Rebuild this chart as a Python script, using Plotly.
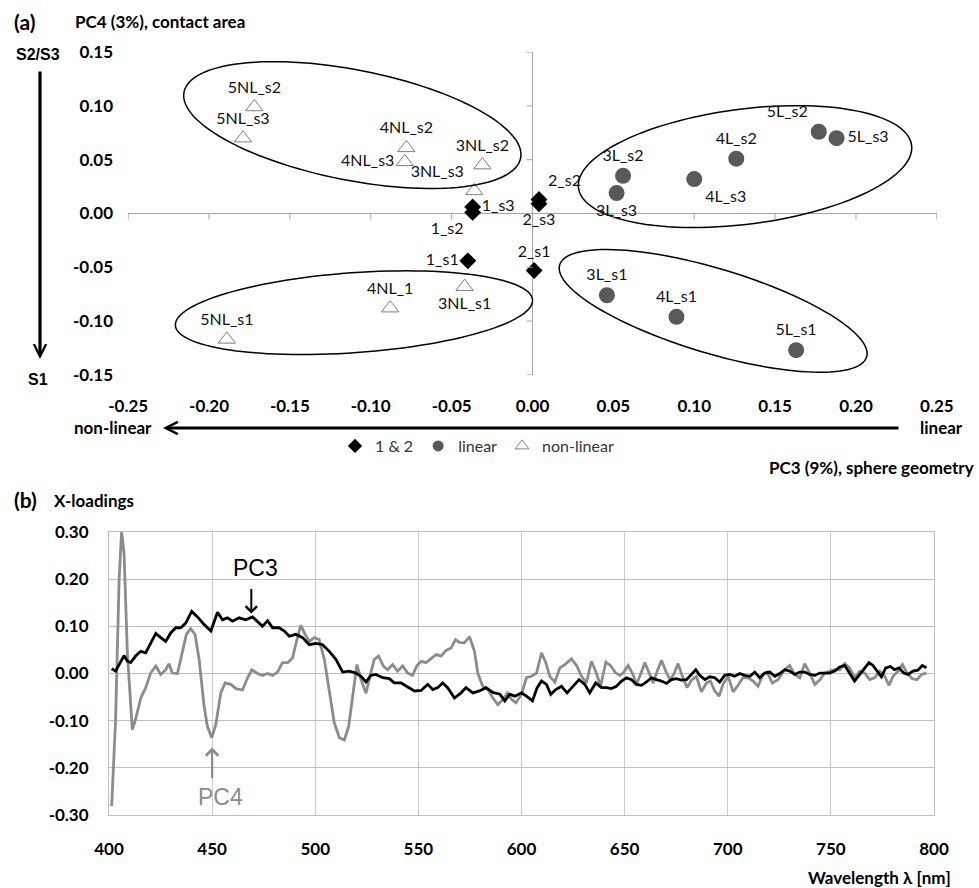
import numpy as np
import plotly.graph_objects as go

# ---------------- data: panel (a) scores ----------------
grp12_labels = ["1_s1", "1_s2", "1_s3", "2_s1", "2_s2", "2_s3"]
grp12_x = [-0.040, -0.037, -0.037, 0.001, 0.004, 0.004]
grp12_y = [-0.044, 0.001, 0.006, -0.053, 0.013, 0.009]
grp12_pos = ["middle left", "bottom left", "middle right", "top center", "top right", "bottom center"]

linear_labels = ["3L_s1", "3L_s2", "3L_s3", "4L_s1", "4L_s2", "4L_s3", "5L_s1", "5L_s2", "5L_s3"]
linear_x = [0.046, 0.056, 0.052, 0.089, 0.126, 0.100, 0.163, 0.177, 0.188]
linear_y = [-0.076, 0.035, 0.019, -0.096, 0.051, 0.032, -0.127, 0.076, 0.070]
linear_pos = ["top center", "top center", "bottom center", "top center", "top center",
              "bottom right", "top center", "top left", "middle right"]

nonlin_labels = ["3NL_s1", "3NL_s2", "3NL_s3", "4NL_1", "4NL_s2", "4NL_s3", "5NL_s1", "5NL_s2", "5NL_s3"]
nonlin_x = [-0.042, -0.031, -0.036, -0.088, -0.078, -0.079, -0.189, -0.172, -0.179]
nonlin_y = [-0.068, 0.045, 0.021, -0.088, 0.061, 0.048, -0.117, 0.099, 0.070]
nonlin_pos = ["bottom center", "top center", "top left", "top center", "top center",
              "middle left", "top center", "top center", "top center"]

a_xticks = [-0.25, -0.20, -0.15, -0.10, -0.05, 0.00, 0.05, 0.10, 0.15, 0.20, 0.25]
a_yticks = [-0.15, -0.10, -0.05, 0.00, 0.05, 0.10, 0.15]

# cluster ellipses: centre (data units), half axes (px), tilt (deg)
ell_cx = [-0.1114, 0.1314, -0.1104, 0.1117]
ell_cy = [0.0822, 0.0436, -0.0922, -0.0905]
ell_a = [171.6, 168.0, 179.1, 160.3]
ell_b = [55.2, 57.6, 40.0, 42.4]
ell_ang = [-11.1, 7.3, 4.1, -16.7]

# ---------------- data: panel (b) loadings ----------------
pc3_wl = [401.3, 403.2, 404.9, 407.3, 408.9, 410.5, 412.9, 415.4, 417.8, 420.2, 422.7, 425.1, 427.5, 429.9,
          432.4, 434.8, 437.2, 440.1, 442.9, 446.1, 449.4, 452.6, 455.0, 457.4, 459.9, 463.1, 466.3, 469.6,
          472.0, 474.4, 476.9, 479.3, 482.5, 485.0, 487.4, 490.6, 493.9, 497.1, 500.3, 503.6, 506.8, 510.0,
          513.3, 516.5, 519.7, 522.2, 524.6, 527.0, 529.4, 532.7, 535.9, 538.3, 541.6, 544.8, 548.1, 551.3,
          554.5, 557.0, 559.4, 561.8, 564.2, 567.5, 570.7, 573.1, 576.4, 579.6, 582.8, 586.1, 589.5, 591.9,
          594.3, 596.8, 600.0, 602.4, 605.3, 607.6, 609.7, 612.1, 614.2, 616.6, 619.4, 622.1, 625.0, 627.9,
          630.7, 633.1, 636.0, 638.8, 641.2, 643.6, 646.0, 648.5, 650.9, 653.3, 655.7, 658.2, 660.6, 663.0,
          665.4, 667.9, 670.3, 672.7, 675.1, 677.5, 680.0, 682.4, 684.5, 686.4, 688.9, 691.3, 693.7, 696.1,
          698.5, 701.0, 703.4, 705.8, 708.2, 710.7, 713.1, 715.5, 717.9, 720.4, 722.8, 725.2, 727.6, 730.0,
          732.5, 734.9, 737.3, 739.7, 742.2, 744.6, 747.0, 749.4, 751.8, 754.3, 756.7, 759.1, 761.5, 764.0,
          766.4, 768.5, 770.4, 772.9, 774.5, 776.6, 778.8, 780.9, 783.0, 785.3, 787.4, 789.8, 792.2, 794.3,
          796.3]
pc3_val = [0.010, 0.005, 0.019, 0.038, 0.026, 0.023, 0.037, 0.047, 0.044, 0.065, 0.085, 0.076, 0.068, 0.086,
           0.097, 0.097, 0.107, 0.132, 0.120, 0.104, 0.090, 0.130, 0.114, 0.118, 0.111, 0.118, 0.114, 0.120,
           0.111, 0.100, 0.112, 0.097, 0.097, 0.090, 0.079, 0.083, 0.076, 0.061, 0.064, 0.061, 0.047, 0.030,
           0.003, 0.005, 0.001, -0.006, -0.018, -0.004, -0.002, -0.009, -0.011, -0.020, -0.020, -0.029, -0.037, -0.036,
           -0.023, -0.034, -0.030, -0.020, -0.030, -0.052, -0.041, -0.030, -0.041, -0.037, -0.030, -0.040, -0.044, -0.058,
           -0.044, -0.048, -0.041, -0.048, -0.058, -0.030, -0.016, -0.023, -0.044, -0.034, -0.027, -0.041, -0.027, -0.013,
           -0.023, -0.041, -0.020, -0.030, -0.030, -0.032, -0.027, -0.016, -0.009, -0.013, -0.023, -0.025, -0.018, -0.009,
           -0.013, -0.016, -0.021, -0.013, -0.011, -0.014, -0.013, -0.002, 0.008, -0.004, -0.013, -0.007, -0.009, -0.018,
           -0.004, -0.002, -0.006, 0.000, -0.004, -0.006, 0.003, -0.009, 0.001, 0.003, -0.006, 0.000, 0.008, 0.005,
           -0.002, 0.003, 0.003, -0.002, -0.004, 0.001, 0.001, 0.001, 0.005, 0.014, 0.017, 0.001, -0.016, -0.002,
           0.012, 0.023, 0.017, 0.003, -0.007, 0.012, 0.015, 0.008, 0.012, 0.001, -0.002, 0.005, 0.007, 0.017,
           0.012]

pc4_wl = [401.3, 403.2, 404.9, 406.1, 407.3, 408.9, 411.3, 412.9, 415.4, 417.8, 420.2, 422.7, 425.1, 427.5,
          429.1, 430.7, 433.2, 435.6, 437.5, 439.6, 441.7, 443.7, 446.1, 447.7, 449.8, 451.8, 454.2, 456.3,
          459.1, 461.5, 464.7, 467.2, 469.3, 472.0, 474.4, 476.9, 479.3, 481.7, 484.1, 486.6, 489.0, 490.9,
          493.0, 495.1, 497.1, 499.5, 501.9, 504.4, 506.8, 509.2, 511.7, 514.1, 516.2, 518.1, 520.2, 522.2,
          524.6, 526.5, 528.6, 530.7, 533.0, 535.1, 537.5, 539.9, 542.4, 544.8, 547.2, 549.2, 551.3, 553.7,
          556.1, 558.6, 561.0, 563.4, 565.9, 568.0, 569.9, 572.3, 574.8, 577.2, 578.8, 581.2, 583.7, 586.1,
          588.5, 591.1, 593.1, 595.2, 597.3, 600.0, 602.4, 604.8, 607.3, 609.7, 611.8, 613.7, 616.2, 618.6,
          621.0, 624.2, 626.7, 629.1, 631.5, 633.9, 636.3, 638.3, 640.9, 643.1, 645.7, 647.7, 649.3, 651.7,
          654.1, 655.7, 657.7, 659.8, 662.2, 663.8, 665.8, 667.9, 670.3, 672.0, 673.8, 675.9, 678.0, 680.3,
          682.4, 684.8, 687.2, 689.7, 691.6, 693.7, 695.8, 697.7, 700.2, 702.6, 705.0, 707.4, 709.9, 712.3,
          714.7, 717.1, 719.1, 721.6, 724.4, 727.6, 730.0, 732.5, 734.9, 737.3, 739.7, 742.2, 744.6, 747.0,
          749.4, 751.8, 754.3, 756.7, 759.1, 761.5, 764.0, 766.4, 768.8, 771.2, 773.7, 776.1, 778.2, 780.1,
          782.6, 784.7, 786.9, 789.5, 791.8, 793.9, 796.3]
pc4_val = [-0.281, -0.097, 0.199, 0.301, 0.255, 0.044, -0.119, -0.097, -0.052, -0.030, 0.001, 0.016, -0.002, 0.008,
           0.021, 0.001, 0.000, 0.044, 0.083, 0.095, 0.083, 0.030, -0.069, -0.112, -0.136, -0.108, -0.041, -0.020,
           -0.023, -0.032, -0.035, -0.009, 0.008, 0.000, -0.004, 0.000, -0.004, 0.003, 0.023, 0.023, 0.033, 0.068,
           0.102, 0.083, 0.068, 0.076, 0.072, 0.030, -0.034, -0.104, -0.136, -0.141, -0.112, -0.048, 0.019, -0.013,
           -0.042, -0.006, 0.030, 0.037, 0.016, 0.008, 0.019, 0.005, 0.016, 0.001, -0.004, 0.016, 0.026, 0.023,
           0.031, 0.040, 0.037, 0.049, 0.054, 0.072, 0.066, 0.065, 0.078, 0.047, 0.001, -0.027, -0.034, -0.052,
           -0.066, -0.055, -0.041, -0.055, -0.062, -0.044, -0.009, -0.006, 0.001, 0.044, 0.023, -0.006, -0.018, 0.012,
           0.019, 0.031, 0.017, -0.006, -0.020, 0.026, 0.001, -0.027, 0.024, 0.017, 0.001, -0.004, 0.001, 0.017,
           -0.002, -0.023, -0.002, 0.023, -0.002, -0.020, 0.005, 0.028, 0.001, -0.013, -0.002, 0.021, -0.006, -0.030,
           -0.014, -0.006, -0.039, -0.020, -0.016, -0.037, -0.048, -0.023, -0.006, -0.039, -0.025, -0.009, -0.009, -0.016,
           -0.027, -0.002, 0.003, -0.020, -0.013, 0.008, 0.017, -0.002, -0.009, 0.021, 0.001, -0.023, -0.014, 0.001,
           0.005, 0.008, 0.008, 0.021, 0.012, -0.009, 0.005, 0.001, -0.013, -0.009, 0.005, -0.006, -0.025, -0.006,
           0.005, 0.019, 0.001, -0.011, -0.013, -0.002, 0.001]

b_xticks = [400, 450, 500, 550, 600, 650, 700, 750, 800]
b_yticks = [-0.30, -0.20, -0.10, 0.00, 0.10, 0.20, 0.30]

# ---------------- layout geometry (px) ----------------
W, H = 979, 888
A_L, A_R, A_T, A_B = 128, 937, 52, 375
B_L, B_R, B_T, B_B = 109, 934, 532, 815
A_XR = [-0.25, 0.25]
A_YR = [-0.15, 0.15]


def px(x):
    return x / W


def py(y):
    return 1 - y / H


def fmt(v):
    return f"{v:.2f}".replace("-0.00", "0.00")


FONT = "Lato"
TICKFONT = dict(family=FONT, size=17, color="black", weight="bold")
LBLFONT = dict(family=FONT, size=16, color="#111111")
AXGRAY = "#a6a6a6"

fig = go.Figure()

# panel (a) points
fig.add_trace(go.Scatter(x=grp12_x, y=grp12_y, text=grp12_labels, textposition=grp12_pos,
                         mode="markers+text", showlegend=False, cliponaxis=False,
                         marker=dict(symbol="diamond", size=13, color="black"),
                         textfont=LBLFONT, xaxis="x", yaxis="y"))
fig.add_trace(go.Scatter(x=linear_x, y=linear_y, text=linear_labels, textposition=linear_pos,
                         mode="markers+text", showlegend=False, cliponaxis=False,
                         marker=dict(symbol="circle", size=16, color="#595959"),
                         textfont=LBLFONT, xaxis="x", yaxis="y"))
fig.add_trace(go.Scatter(x=nonlin_x, y=nonlin_y, text=nonlin_labels, textposition=nonlin_pos,
                         mode="markers+text", showlegend=False, cliponaxis=False,
                         marker=dict(symbol="triangle-up", size=15, color="white",
                                     line=dict(color="#7f7f7f", width=1)),
                         textfont=LBLFONT, xaxis="x", yaxis="y"))
# legend entries
fig.add_trace(go.Scatter(x=[None], y=[None], mode="markers", name="1 & 2",
                         marker=dict(symbol="diamond", size=11, color="black"), xaxis="x", yaxis="y"))
fig.add_trace(go.Scatter(x=[None], y=[None], mode="markers", name="linear",
                         marker=dict(symbol="circle", size=11, color="#595959"), xaxis="x", yaxis="y"))
fig.add_trace(go.Scatter(x=[None], y=[None], mode="markers", name="non-linear",
                         marker=dict(symbol="triangle-up", size=12, color="white",
                                     line=dict(color="#7f7f7f", width=1)), xaxis="x", yaxis="y"))

# panel (b) lines
fig.add_trace(go.Scatter(x=pc4_wl, y=pc4_val, mode="lines", showlegend=False,
                         line=dict(color="#8c8c8c", width=2.8), xaxis="x2", yaxis="y2"))
fig.add_trace(go.Scatter(x=pc3_wl, y=pc3_val, mode="lines", showlegend=False,
                         line=dict(color="black", width=2.8), xaxis="x2", yaxis="y2"))

# ---------------- shapes ----------------
shapes = []
ppx = (A_R - A_L) / (A_XR[1] - A_XR[0])
ppy = (A_B - A_T) / (A_YR[1] - A_YR[0])
t = np.linspace(0, 2 * np.pi, 121)
for cx, cy, a, b, ang in zip(ell_cx, ell_cy, ell_a, ell_b, ell_ang):
    phi = np.deg2rad(ang)
    dx = a * np.cos(t) * np.cos(phi) - b * np.sin(t) * np.sin(phi)
    dy = a * np.cos(t) * np.sin(phi) + b * np.sin(t) * np.cos(phi)
    xs = cx + dx / ppx
    ys = cy + dy / ppy
    path = "M " + " L ".join(f"{x:.5f},{y:.5f}" for x, y in zip(xs, ys)) + " Z"
    shapes.append(dict(type="path", path=path, xref="x", yref="y",
                       line=dict(color="black", width=1.5), layer="above"))

for v in a_xticks:
    shapes.append(dict(type="line", xref="x", yref="y", x0=v, x1=v, ysizemode="pixel",
                       yanchor=0, y0=0, y1=-6, line=dict(color=AXGRAY, width=1)))
for v in a_yticks:
    shapes.append(dict(type="line", xref="x", yref="y", y0=v, y1=v, xsizemode="pixel",
                       xanchor=0, x0=-6, x1=0, line=dict(color=AXGRAY, width=1)))

# ---------------- annotations ----------------
ann = []


def txt(x, y, s, size=17, bold=True, xanchor="left", family=FONT, color="black"):
    ann.append(dict(x=px(x), y=py(y), xref="paper", yref="paper", text=s, showarrow=False,
                    xanchor=xanchor, yanchor="middle",
                    font=dict(family=family, size=size, color=color,
                              weight="bold" if bold else "normal")))


txt(12, 22, "(a)", size=21)
txt(73, 22, "PC4 (3%), contact area", size=17)
txt(38, 54, "S2/S3", size=16, xanchor="center", family="Liberation Sans")
txt(38, 379, "S1", size=16, xanchor="center", family="Liberation Sans")
txt(154, 428, "non-linear", size=17, xanchor="right")
txt(918, 428, "linear", size=17)
txt(976, 467, "PC3 (9%), sphere geometry", size=17, xanchor="right")
txt(12, 499, "(b)", size=21)
txt(52, 500, "X-loadings", size=17)
txt(953, 877, "Wavelength \u03bb [nm]", size=17, xanchor="right")

# big arrows (paper), open V heads
ann.append(dict(x=px(40), y=py(359), xref="paper", yref="paper", ax=0, ay=-289, text="",
                showarrow=True, arrowhead=5, arrowsize=0.75, arrowwidth=3.2, arrowcolor="black"))
ann.append(dict(x=px(163), y=py(428), xref="paper", yref="paper", ax=737, ay=0, text="",
                showarrow=True, arrowhead=5, arrowsize=0.75, arrowwidth=3.2, arrowcolor="black"))

# PC3 / PC4 pointers
ann.append(dict(x=469, y=0.127, xref="x2", yref="y2", ax=0, ay=-26, text="", showarrow=True,
                arrowhead=4, arrowsize=1.1, arrowwidth=2, arrowcolor="black"))
ann.append(dict(x=469, y=0.127, xref="x2", yref="y2", xshift=4, yshift=46, text="PC3", showarrow=False,
                font=dict(family="Liberation Sans", size=23, color="black")))
ann.append(dict(x=450, y=-0.157, xref="x2", yref="y2", ax=0, ay=32, text="", showarrow=True,
                arrowhead=4, arrowsize=1.1, arrowwidth=2.2, arrowcolor="#8c8c8c"))
ann.append(dict(x=450, y=-0.157, xref="x2", yref="y2", xshift=8, yshift=-49, text="PC4", showarrow=False,
                font=dict(family="Liberation Sans", size=23, color="#8c8c8c")))

eps = 1e-4
fig.update_layout(
    width=W, height=H, margin=dict(l=0, r=0, t=0, b=0, autoexpand=False),
    paper_bgcolor="white", plot_bgcolor="white",
    font=dict(family=FONT, color="black"),
    xaxis=dict(domain=[px(A_L), px(A_R)], anchor="y", range=[A_XR[0] - eps, A_XR[1] + eps],
               tickvals=a_xticks, ticktext=[fmt(v) for v in a_xticks], showgrid=False, automargin=False,
               zeroline=True, zerolinecolor=AXGRAY, zerolinewidth=1, showline=False, ticks="",
               tickfont=TICKFONT, ticklabelstandoff=19),
    yaxis=dict(domain=[py(A_B), py(A_T)], anchor="x", range=[A_YR[0] - eps, A_YR[1] + eps],
               tickvals=a_yticks, ticktext=[fmt(v) for v in a_yticks], showgrid=False, automargin=False,
               zeroline=True, zerolinecolor=AXGRAY, zerolinewidth=1, showline=False, ticks="",
               tickfont=TICKFONT, ticklabelstandoff=14),
    xaxis2=dict(domain=[px(B_L), px(B_R)], anchor="y2", range=[400, 800], automargin=False,
                tickvals=b_xticks, ticktext=[str(v) for v in b_xticks],
                showgrid=True, gridcolor="#cccccc", gridwidth=1, zeroline=False,
                showline=True, mirror=True, linecolor="#bfbfbf", linewidth=1, ticks="",
                tickfont=TICKFONT, ticklabelstandoff=19),
    yaxis2=dict(domain=[py(B_B), py(B_T)], anchor="x2", range=[-0.3, 0.3], automargin=False,
                tickvals=b_yticks, ticktext=[fmt(v) for v in b_yticks],
                showgrid=True, gridcolor="#bfbfbf", gridwidth=1, zeroline=False,
                showline=True, mirror=True, linecolor="#bfbfbf", linewidth=1, ticks="",
                tickfont=TICKFONT, ticklabelstandoff=16),
    legend=dict(orientation="h", x=px(335), y=py(446), xanchor="left", yanchor="middle",
                font=dict(family=FONT, size=16, color="#333333"), itemwidth=30,
                bgcolor="rgba(0,0,0,0)", traceorder="normal"),
    shapes=shapes, annotations=ann,
)

fig.write_html("out.html")
